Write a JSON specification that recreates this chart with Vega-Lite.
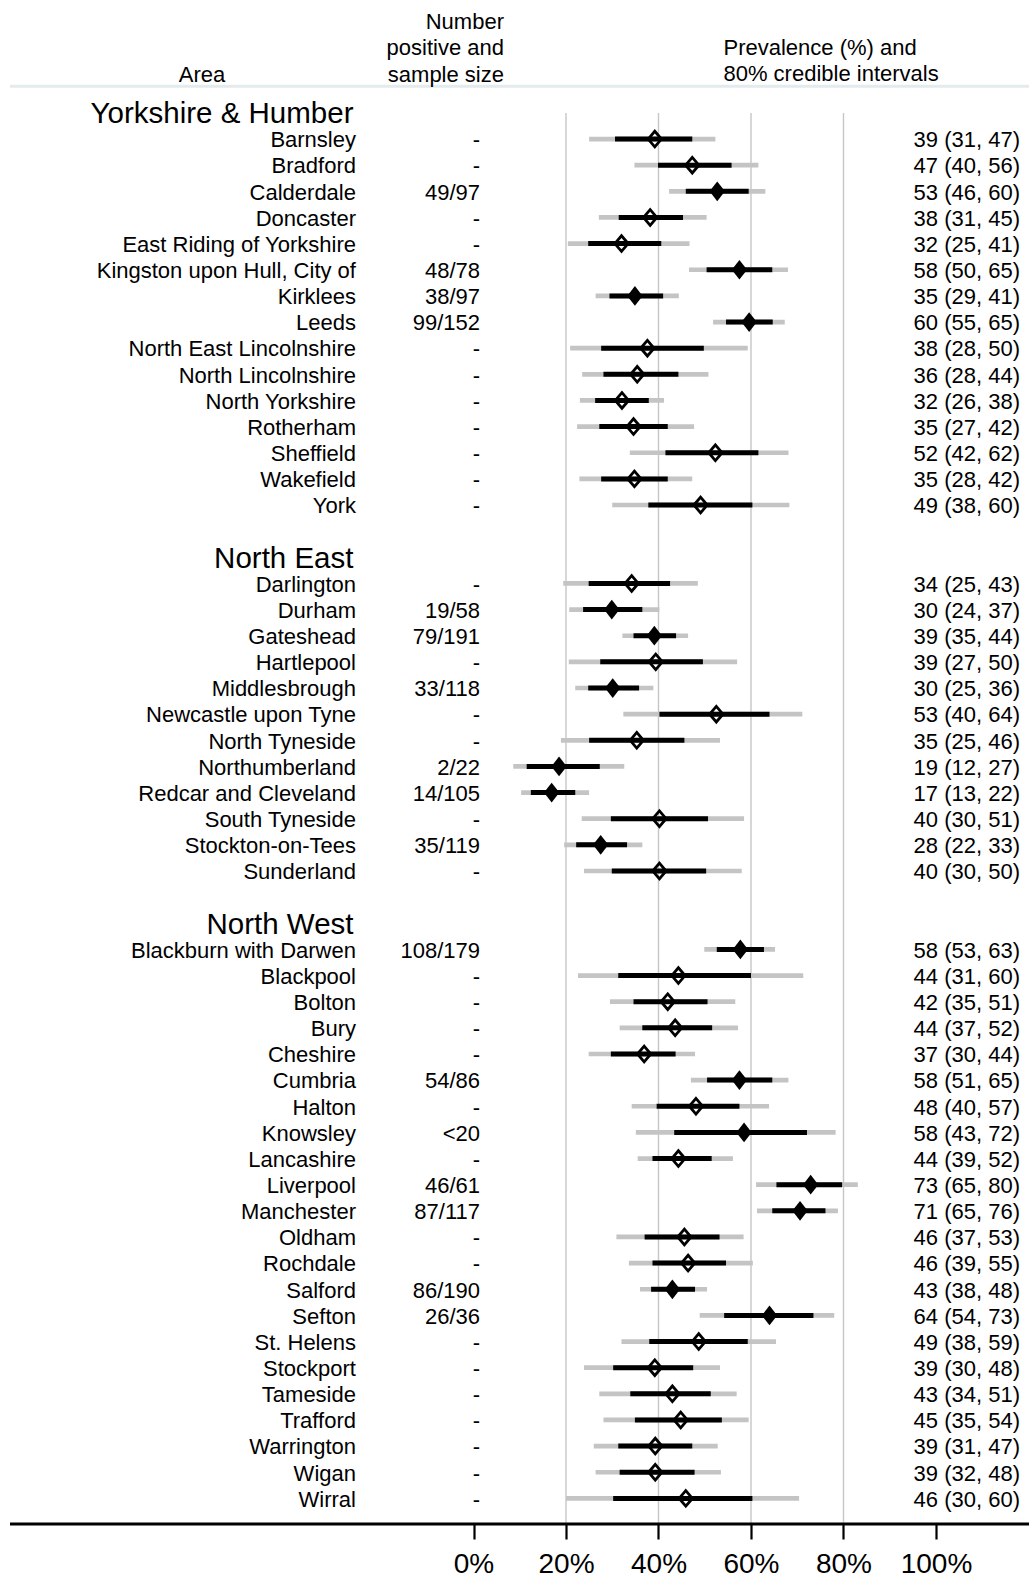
{
  "$schema": "https://vega.github.io/schema/vega-lite/v6.json",
  "width": 1029,
  "height": 1524,
  "autosize": {"type": "none"},
  "padding": {"left": 0, "top": 0, "right": 0, "bottom": 53},
  "background": "white",
  "config": {
    "view": {"stroke": null},
    "font": "Liberation Sans",
    "text": {"font": "Liberation Sans", "color": "black"}
  },
  "datasets": {
    "grid": [{"pct": 20}, {"pct": 40}, {"pct": 60}, {"pct": 80}],
    "regions": [
      {"order": 0, "region": "Yorkshire & Humber"},
      {"order": 17, "region": "North East"},
      {"order": 31, "region": "North West"}
    ],
    "areas": [
      {"order": 1, "area": "Barnsley", "n": "-", "est": 39.2, "lo80": 30.6, "hi80": 47.3, "lo": 25.0, "hi": 52.3, "label": "39 (31, 47)", "obs": false},
      {"order": 2, "area": "Bradford", "n": "-", "est": 47.3, "lo80": 39.9, "hi80": 55.8, "lo": 34.8, "hi": 61.6, "label": "47 (40, 56)", "obs": false},
      {"order": 3, "area": "Calderdale", "n": "49/97", "est": 52.7, "lo80": 45.9, "hi80": 59.5, "lo": 42.3, "hi": 63.1, "label": "53 (46, 60)", "obs": true},
      {"order": 4, "area": "Doncaster", "n": "-", "est": 38.2, "lo80": 31.4, "hi80": 45.3, "lo": 27.1, "hi": 50.4, "label": "38 (31, 45)", "obs": false},
      {"order": 5, "area": "East Riding of Yorkshire", "n": "-", "est": 32.0, "lo80": 24.8, "hi80": 40.6, "lo": 20.4, "hi": 46.7, "label": "32 (25, 41)", "obs": false},
      {"order": 6, "area": "Kingston upon Hull, City of", "n": "48/78", "est": 57.5, "lo80": 50.4, "hi80": 64.6, "lo": 46.6, "hi": 68.0, "label": "58 (50, 65)", "obs": true},
      {"order": 7, "area": "Kirklees", "n": "38/97", "est": 34.9, "lo80": 29.4, "hi80": 41.0, "lo": 26.4, "hi": 44.4, "label": "35 (29, 41)", "obs": true},
      {"order": 8, "area": "Leeds", "n": "99/152", "est": 59.6, "lo80": 54.6, "hi80": 64.7, "lo": 51.8, "hi": 67.3, "label": "60 (55, 65)", "obs": true},
      {"order": 9, "area": "North East Lincolnshire", "n": "-", "est": 37.6, "lo80": 27.6, "hi80": 49.8, "lo": 20.9, "hi": 59.3, "label": "38 (28, 50)", "obs": false},
      {"order": 10, "area": "North Lincolnshire", "n": "-", "est": 35.4, "lo80": 28.1, "hi80": 44.3, "lo": 23.5, "hi": 50.8, "label": "36 (28, 44)", "obs": false},
      {"order": 11, "area": "North Yorkshire", "n": "-", "est": 32.1, "lo80": 26.3, "hi80": 37.9, "lo": 23.0, "hi": 41.2, "label": "32 (26, 38)", "obs": false},
      {"order": 12, "area": "Rotherham", "n": "-", "est": 34.6, "lo80": 27.2, "hi80": 42.0, "lo": 22.4, "hi": 47.7, "label": "35 (27, 42)", "obs": false},
      {"order": 13, "area": "Sheffield", "n": "-", "est": 52.3, "lo80": 41.5, "hi80": 61.6, "lo": 33.8, "hi": 68.1, "label": "52 (42, 62)", "obs": false},
      {"order": 14, "area": "Wakefield", "n": "-", "est": 34.8, "lo80": 27.6, "hi80": 42.0, "lo": 22.9, "hi": 47.3, "label": "35 (28, 42)", "obs": false},
      {"order": 15, "area": "York", "n": "-", "est": 49.1, "lo80": 37.8, "hi80": 60.3, "lo": 30.0, "hi": 68.3, "label": "49 (38, 60)", "obs": false},
      {"order": 18, "area": "Darlington", "n": "-", "est": 34.2, "lo80": 24.9, "hi80": 42.5, "lo": 19.4, "hi": 48.5, "label": "34 (25, 43)", "obs": false},
      {"order": 19, "area": "Durham", "n": "19/58", "est": 29.9, "lo80": 23.7, "hi80": 36.5, "lo": 20.7, "hi": 40.2, "label": "30 (24, 37)", "obs": true},
      {"order": 20, "area": "Gateshead", "n": "79/191", "est": 39.1, "lo80": 34.6, "hi80": 43.8, "lo": 32.2, "hi": 46.4, "label": "39 (35, 44)", "obs": true},
      {"order": 21, "area": "Hartlepool", "n": "-", "est": 39.4, "lo80": 27.4, "hi80": 49.6, "lo": 20.6, "hi": 57.0, "label": "39 (27, 50)", "obs": false},
      {"order": 22, "area": "Middlesbrough", "n": "33/118", "est": 30.1, "lo80": 24.8, "hi80": 35.8, "lo": 22.0, "hi": 38.9, "label": "30 (25, 36)", "obs": true},
      {"order": 23, "area": "Newcastle upon Tyne", "n": "-", "est": 52.5, "lo80": 40.2, "hi80": 64.0, "lo": 32.4, "hi": 71.1, "label": "53 (40, 64)", "obs": false},
      {"order": 24, "area": "North Tyneside", "n": "-", "est": 35.3, "lo80": 25.0, "hi80": 45.6, "lo": 18.9, "hi": 53.3, "label": "35 (25, 46)", "obs": false},
      {"order": 25, "area": "Northumberland", "n": "2/22", "est": 18.5, "lo80": 11.5, "hi80": 27.3, "lo": 8.6, "hi": 32.6, "label": "19 (12, 27)", "obs": true},
      {"order": 26, "area": "Redcar and Cleveland", "n": "14/105", "est": 16.9, "lo80": 12.4, "hi80": 22.0, "lo": 10.3, "hi": 25.0, "label": "17 (13, 22)", "obs": true},
      {"order": 27, "area": "South Tyneside", "n": "-", "est": 40.2, "lo80": 29.7, "hi80": 50.7, "lo": 23.4, "hi": 58.5, "label": "40 (30, 51)", "obs": false},
      {"order": 28, "area": "Stockton-on-Tees", "n": "35/119", "est": 27.5, "lo80": 22.2, "hi80": 33.2, "lo": 19.6, "hi": 36.5, "label": "28 (22, 33)", "obs": true},
      {"order": 29, "area": "Sunderland", "n": "-", "est": 40.2, "lo80": 29.9, "hi80": 50.3, "lo": 23.9, "hi": 58.0, "label": "40 (30, 50)", "obs": false},
      {"order": 32, "area": "Blackburn with Darwen", "n": "108/179", "est": 57.7, "lo80": 52.6, "hi80": 62.8, "lo": 49.9, "hi": 65.2, "label": "58 (53, 63)", "obs": true},
      {"order": 33, "area": "Blackpool", "n": "-", "est": 44.3, "lo80": 31.3, "hi80": 60.0, "lo": 22.6, "hi": 71.3, "label": "44 (31, 60)", "obs": false},
      {"order": 34, "area": "Bolton", "n": "-", "est": 42.0, "lo80": 34.6, "hi80": 50.6, "lo": 29.5, "hi": 56.6, "label": "42 (35, 51)", "obs": false},
      {"order": 35, "area": "Bury", "n": "-", "est": 43.6, "lo80": 36.5, "hi80": 51.6, "lo": 31.6, "hi": 57.2, "label": "44 (37, 52)", "obs": false},
      {"order": 36, "area": "Cheshire", "n": "-", "est": 36.9, "lo80": 29.7, "hi80": 43.7, "lo": 24.9, "hi": 47.9, "label": "37 (30, 44)", "obs": false},
      {"order": 37, "area": "Cumbria", "n": "54/86", "est": 57.5, "lo80": 50.5, "hi80": 64.6, "lo": 47.0, "hi": 68.1, "label": "58 (51, 65)", "obs": true},
      {"order": 38, "area": "Halton", "n": "-", "est": 48.1, "lo80": 39.6, "hi80": 57.5, "lo": 34.2, "hi": 63.9, "label": "48 (40, 57)", "obs": false},
      {"order": 39, "area": "Knowsley", "n": "<20", "est": 58.5, "lo80": 43.4, "hi80": 72.1, "lo": 35.1, "hi": 78.3, "label": "58 (43, 72)", "obs": true},
      {"order": 40, "area": "Lancashire", "n": "-", "est": 44.3, "lo80": 38.7, "hi80": 51.5, "lo": 35.5, "hi": 56.1, "label": "44 (39, 52)", "obs": false},
      {"order": 41, "area": "Liverpool", "n": "46/61", "est": 72.9, "lo80": 65.5, "hi80": 79.7, "lo": 61.1, "hi": 83.1, "label": "73 (65, 80)", "obs": true},
      {"order": 42, "area": "Manchester", "n": "87/117", "est": 70.6, "lo80": 64.6, "hi80": 76.1, "lo": 61.3, "hi": 78.8, "label": "71 (65, 76)", "obs": true},
      {"order": 43, "area": "Oldham", "n": "-", "est": 45.6, "lo80": 37.0, "hi80": 53.2, "lo": 30.9, "hi": 58.4, "label": "46 (37, 53)", "obs": false},
      {"order": 44, "area": "Rochdale", "n": "-", "est": 46.4, "lo80": 38.7, "hi80": 54.6, "lo": 33.6, "hi": 60.4, "label": "46 (39, 55)", "obs": false},
      {"order": 45, "area": "Salford", "n": "86/190", "est": 43.0, "lo80": 38.4, "hi80": 47.9, "lo": 36.0, "hi": 50.5, "label": "43 (38, 48)", "obs": true},
      {"order": 46, "area": "Sefton", "n": "26/36", "est": 64.0, "lo80": 54.2, "hi80": 73.5, "lo": 48.9, "hi": 78.0, "label": "64 (54, 73)", "obs": true},
      {"order": 47, "area": "St. Helens", "n": "-", "est": 48.7, "lo80": 38.0, "hi80": 59.3, "lo": 32.0, "hi": 65.4, "label": "49 (38, 59)", "obs": false},
      {"order": 48, "area": "Stockport", "n": "-", "est": 39.2, "lo80": 30.2, "hi80": 47.5, "lo": 23.9, "hi": 53.3, "label": "39 (30, 48)", "obs": false},
      {"order": 49, "area": "Tameside", "n": "-", "est": 43.0, "lo80": 33.9, "hi80": 51.3, "lo": 27.2, "hi": 56.9, "label": "43 (34, 51)", "obs": false},
      {"order": 50, "area": "Trafford", "n": "-", "est": 44.8, "lo80": 34.9, "hi80": 53.7, "lo": 28.1, "hi": 59.5, "label": "45 (35, 54)", "obs": false},
      {"order": 51, "area": "Warrington", "n": "-", "est": 39.3, "lo80": 31.3, "hi80": 47.3, "lo": 26.0, "hi": 52.8, "label": "39 (31, 47)", "obs": false},
      {"order": 52, "area": "Wigan", "n": "-", "est": 39.3, "lo80": 31.6, "hi80": 47.8, "lo": 26.4, "hi": 53.5, "label": "39 (32, 48)", "obs": false},
      {"order": 53, "area": "Wirral", "n": "-", "est": 45.9, "lo80": 30.2, "hi80": 60.3, "lo": 20.0, "hi": 70.4, "label": "46 (30, 60)", "obs": false}
    ]
  },
  "layer": [
    {
      "data": {"name": "grid"},
      "mark": {"type": "rule", "color": "#c6c6c6", "strokeWidth": 1.4},
      "encoding": {
        "x": {
          "field": "pct", "type": "quantitative",
          "scale": {"domain": [-102.38, 120.11], "nice": false, "zero": false},
          "axis": {
            "orient": "bottom", "title": null, "values": [0, 20, 40, 60, 80, 100],
            "labelExpr": "datum.value + '%'", "domain": false, "grid": false,
            "tickSize": 15, "tickWidth": 2.2, "tickColor": "black",
            "labelFont": "Liberation Sans", "labelFontSize": 28, "labelColor": "black",
            "labelPadding": 11, "labelFlush": false, "labelOverlap": false
          }
        },
        "y": {"datum": 0, "type": "quantitative",
          "scale": {"domain": [-4.319, 53.98], "nice": false, "zero": false, "reverse": true},
          "axis": null},
        "y2": {"datum": 53.98}
      }
    },
    {
      "data": {"values": [{}]},
      "mark": {"type": "rule", "color": "#e3ebee", "strokeWidth": 3},
      "encoding": {
        "x": {"datum": -100.22, "type": "quantitative"},
        "x2": {"datum": 120.11},
        "y": {"datum": -1.017, "type": "quantitative"}
      }
    },
    {
      "data": {"values": [{}]},
      "mark": {"type": "rule", "color": "black", "strokeWidth": 3},
      "encoding": {
        "x": {"datum": -100.22, "type": "quantitative"},
        "x2": {"datum": 120.11},
        "y": {"datum": 53.98, "type": "quantitative"}
      }
    },
    {
      "data": {"name": "areas"},
      "mark": {"type": "rule", "color": "#c4c4c4", "strokeWidth": 4.7},
      "encoding": {
        "x": {"field": "lo", "type": "quantitative"},
        "x2": {"field": "hi"},
        "y": {"field": "order", "type": "quantitative"}
      }
    },
    {
      "data": {"name": "areas"},
      "mark": {"type": "rule", "color": "black", "strokeWidth": 5},
      "encoding": {
        "x": {"field": "lo80", "type": "quantitative"},
        "x2": {"field": "hi80"},
        "y": {"field": "order", "type": "quantitative"}
      }
    },
    {
      "data": {"name": "areas"},
      "transform": [{"filter": "datum.obs"}],
      "mark": {"type": "point", "shape": "M-0.78,0L0,-1L0.78,0L0,1Z", "filled": true, "color": "black", "size": 390, "opacity": 1},
      "encoding": {
        "x": {"field": "est", "type": "quantitative"},
        "y": {"field": "order", "type": "quantitative"}
      }
    },
    {
      "data": {"name": "areas"},
      "transform": [{"filter": "!datum.obs"}],
      "mark": {"type": "point", "shape": "M-0.85,0L0,-1L0.85,0L0,1Z", "filled": false, "color": "black", "strokeWidth": 2.8, "size": 245, "opacity": 1},
      "encoding": {
        "x": {"field": "est", "type": "quantitative"},
        "y": {"field": "order", "type": "quantitative"}
      }
    },
    {
      "data": {"name": "areas"},
      "mark": {"type": "text", "align": "right", "baseline": "alphabetic", "dy": 8.3, "fontSize": 22},
      "encoding": {
        "x": {"datum": -25.41, "type": "quantitative"},
        "y": {"field": "order", "type": "quantitative"},
        "text": {"field": "area"}
      }
    },
    {
      "data": {"name": "areas"},
      "mark": {"type": "text", "align": "right", "baseline": "alphabetic", "dy": 8.3, "fontSize": 22},
      "encoding": {
        "x": {"datum": 1.41, "type": "quantitative"},
        "y": {"field": "order", "type": "quantitative"},
        "text": {"field": "n"}
      }
    },
    {
      "data": {"name": "areas"},
      "mark": {"type": "text", "align": "right", "baseline": "alphabetic", "dy": 8.3, "fontSize": 22},
      "encoding": {
        "x": {"datum": 118.16, "type": "quantitative"},
        "y": {"field": "order", "type": "quantitative"},
        "text": {"field": "label"}
      }
    },
    {
      "data": {"name": "regions"},
      "mark": {"type": "text", "align": "right", "baseline": "alphabetic", "dy": 10.5, "fontSize": 29.5},
      "encoding": {
        "x": {"datum": -25.95, "type": "quantitative"},
        "y": {"field": "order", "type": "quantitative"},
        "text": {"field": "region"}
      }
    },
    {
      "data": {"values": [{}]},
      "mark": {"type": "text", "align": "center", "baseline": "alphabetic", "fontSize": 22, "text": "Area"},
      "encoding": {
        "x": {"datum": -58.7, "type": "quantitative"},
        "y": {"datum": -1.193, "type": "quantitative"}
      }
    },
    {
      "data": {"values": [{}]},
      "mark": {"type": "text", "align": "right", "baseline": "alphabetic", "fontSize": 22, "lineHeight": 26.14, "text": ["Number", "positive and", "sample size"]},
      "encoding": {
        "x": {"datum": 6.59, "type": "quantitative"},
        "y": {"datum": -3.198, "type": "quantitative"}
      }
    },
    {
      "data": {"values": [{}]},
      "mark": {"type": "text", "align": "left", "baseline": "alphabetic", "fontSize": 22, "lineHeight": 26.14, "text": ["Prevalence (%) and", "80% credible intervals"]},
      "encoding": {
        "x": {"datum": 54.05, "type": "quantitative"},
        "y": {"datum": -2.214, "type": "quantitative"}
      }
    }
  ]
}
